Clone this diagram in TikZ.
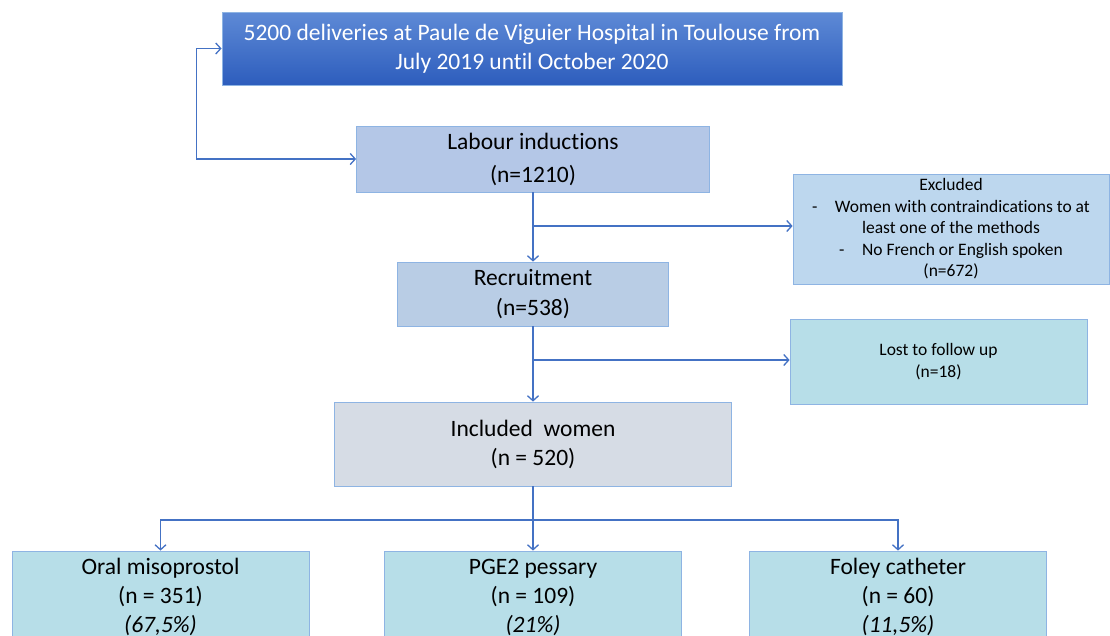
\documentclass[tikz,border=0pt]{standalone}
\usepackage{fontspec}
\setmainfont{Carlito}[Ligatures=NoCommon]
\usetikzlibrary{arrows.meta}
\usetikzlibrary{positioning}
\definecolor{linkblue}{HTML}{4472C4}
\definecolor{boxedge}{HTML}{8EB4E3}
\definecolor{delivtop}{HTML}{5E8AD6}
\definecolor{delivbottom}{HTML}{2D5DBD}
\definecolor{labourfill}{HTML}{B4C7E7}
\definecolor{recruitfill}{HTML}{B9CDE5}
\definecolor{excludedfill}{HTML}{BDD7EE}
\definecolor{includedfill}{HTML}{D6DCE5}
\definecolor{armfill}{HTML}{B7DEE8}
\tikzset{box/.style = {draw=boxedge, line width=0.8pt, inner sep=0, align=center,
                       font=\fontsize{23.5}{33}\selectfont}}
\tikzset{smallbox/.style = {box, font=\fontsize{17.5}{21.5}\selectfont}}
\tikzset{armbox/.style = {box, fill=armfill, minimum width=297, minimum height=92,
                          font=\fontsize{23.5}{29}\selectfont}}
\tikzset{link/.style = {draw=linkblue, line width=1.3pt,
                        -{Straight Barb[length=5pt,width=11pt]}}}

\begin{document}
\begin{tikzpicture}[x=1pt, y=-1pt]
    \clip (0, 0) rectangle (1110, 635);

    \node [box, top color=delivtop, bottom color=delivbottom, text=white,
           minimum width=620, minimum height=73, font=\fontsize{23.5}{29}\selectfont]
          (deliv) at (532, 48.5) {5200 deliveries at Paule de Viguier Hospital in Toulouse from\\July 2019 until October 2020};
    \node [box, fill=labourfill, minimum width=353, minimum height=66]
          (labour) at (533, 159) {Labour inductions\\(n=1210)};
    \node [smallbox, fill=excludedfill, minimum width=316, minimum height=110]
          (excluded) at (951, 229) {Excluded\\-\quad Women with contraindications to at\\least one of the methods\\-\quad No French or English spoken\\(n=672)};
    \node [box, fill=recruitfill, minimum width=271, minimum height=64, font=\fontsize{23.5}{30}\selectfont]
          (recruit) at (533, 294) {Recruitment\\(n=538)};
    \node [smallbox, fill=armfill, minimum width=297, minimum height=85]
          (lost) at (938.5, 361.5) {Lost to follow up\\(n=18)};
    \node [box, fill=includedfill, minimum width=397, minimum height=84, font=\fontsize{23.5}{29}\selectfont]
          (included) at (533, 444) {Included\ \ women\\(n = 520)};

    \node [armbox] (oral) at (160.5, 597) {Oral misoprostol\\(n = 351)\\\textit{(67,5\%)}};
    \node [armbox] (pge) at (533, 597) {PGE2 pessary\\(n = 109)\\\textit{(21\%)}};
    \node [armbox] (foley) at (898, 597) {Foley catheter\\(n = 60)\\\textit{(11,5\%)}};

    % flow
    \draw [link, {Straight Barb[length=5pt,width=11pt]}-{Straight Barb[length=5pt,width=11pt]}]
          (deliv.west) -- ++(-25, 0) |- (labour.west);
    \draw [link] (labour.south) -- (recruit.north);
    \coordinate (split1) at (533, 226);
    \draw [link] (split1) -- (split1 -| excluded.west);
    \draw [link] (recruit.south) -- (included.north);
    \coordinate (split2) at (533, 360);
    \draw [link] (split2) -- (split2 -| lost.west);

    % arms
    \draw [link] (included.south) -- (pge.north);
    \coordinate (fork) at (533, 520);
    \draw [link] (fork) -| (oral.north);
    \draw [link] (fork) -| (foley.north);
\end{tikzpicture}
\end{document}
